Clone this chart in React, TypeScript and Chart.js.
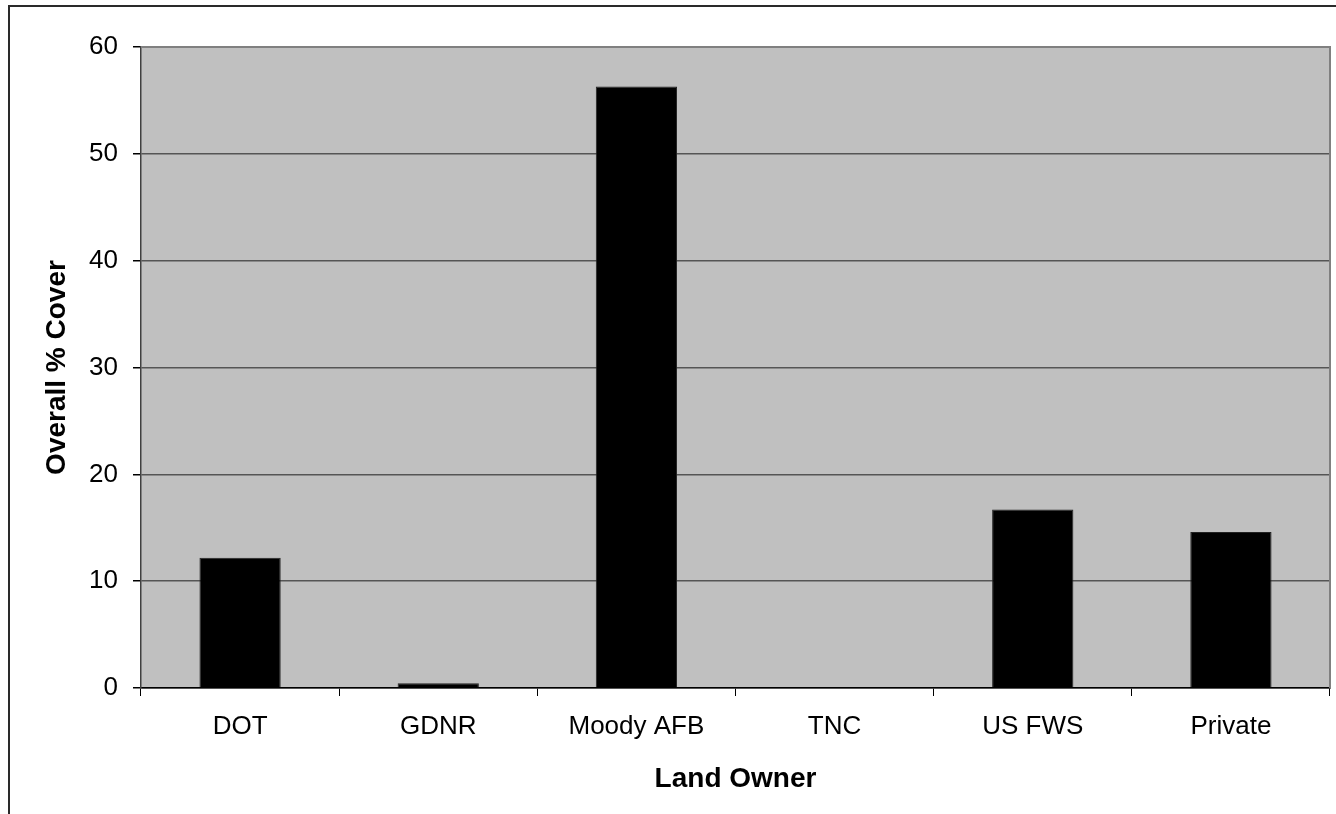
import React, { useEffect, useRef } from 'react';
import { Chart, registerables } from 'chart.js';

Chart.register(...registerables);

const categories = ['DOT', 'GDNR', 'Moody AFB', 'TNC', 'US FWS', 'Private'];
const coverValues = [12.2, 0.45, 56.3, 0, 16.7, 14.6];
const yMin = 0;
const yMax = 60;
const yStep = 10;

const FONT = '"Liberation Sans", Arial, sans-serif';

const plotFrame = {
  id: 'plotFrame',
  beforeDraw(chart: any) {
    const { ctx, chartArea: a } = chart;
    ctx.save();
    ctx.fillStyle = '#C0C0C0';
    ctx.fillRect(a.left, a.top, a.right - a.left, a.bottom - a.top);
    ctx.restore();
  },
  afterDraw(chart: any) {
    const { ctx, chartArea: a } = chart;
    ctx.save();
    ctx.strokeStyle = '#808080';
    ctx.lineWidth = 2;
    ctx.beginPath();
    ctx.moveTo(a.left, a.top);
    ctx.lineTo(a.right, a.top);
    ctx.lineTo(a.right, a.bottom);
    ctx.stroke();
    ctx.restore();
  },
};

export default function App() {
  const ref = useRef<HTMLCanvasElement | null>(null);

  useEffect(() => {
    document.body.style.overflow = 'hidden';
    const canvas = ref.current;
    if (!canvas) return;
    const chart = new Chart(canvas, {
      type: 'bar',
      data: {
        labels: categories,
        datasets: [
          {
            label: 'Overall % Cover',
            data: coverValues,
            backgroundColor: '#000000',
            borderColor: '#222222',
            borderWidth: 1,
            barPercentage: 0.41,
            categoryPercentage: 1,
          },
        ],
      },
      options: {
        responsive: false,
        animation: false,
        devicePixelRatio: 1,
        layout: { padding: { top: 47, right: 6, left: 0, bottom: 0 } },
        plugins: {
          legend: { display: false },
          tooltip: { enabled: false },
        },
        scales: {
          x: {
            type: 'category',
            grid: {
              offset: true,
              drawOnChartArea: false,
              drawTicks: true,
              tickLength: 8,
              color: '#000000',
            },
            border: { color: '#000000', width: 1.5 },
            ticks: {
              color: '#000000',
              font: { family: FONT, size: 26 },
              padding: 15,
              maxRotation: 0,
            },
            title: {
              display: true,
              text: 'Land Owner',
              color: '#000000',
              font: { family: FONT, size: 28, weight: 'bold' },
              padding: { top: 0, bottom: 18 },
            },
            afterFit: (s: any) => {
              s.height = 126;
            },
          },
          y: {
            min: yMin,
            max: yMax,
            grid: {
              color: '#555555',
              lineWidth: 1.5,
              tickLength: 8,
              tickColor: '#000000',
            },
            border: { color: '#404040', width: 1.5 },
            ticks: {
              stepSize: yStep,
              color: '#000000',
              font: { family: FONT, size: 26 },
              padding: 15,
            },
            title: {
              display: true,
              text: 'Overall % Cover',
              color: '#000000',
              font: { family: FONT, size: 28, weight: 'bold' },
              padding: { top: 40, bottom: 0 },
            },
            afterFit: (s: any) => {
              s.width = 141;
            },
          },
        },
      },
      plugins: [plotFrame],
    });
    return () => chart.destroy();
  }, []);

  return (
    <div>
      <div
        style={{
          position: 'absolute',
          left: 8,
          top: 5,
          width: 1328,
          height: 809,
          boxSizing: 'border-box',
          borderLeft: '2px solid #2a2a2a',
          borderTop: '2px solid #2a2a2a',
        }}
      />
      <canvas
        ref={ref}
        width={1336}
        height={814}
        style={{ position: 'absolute', left: 0, top: 0, display: 'block' }}
      />
    </div>
  );
}
